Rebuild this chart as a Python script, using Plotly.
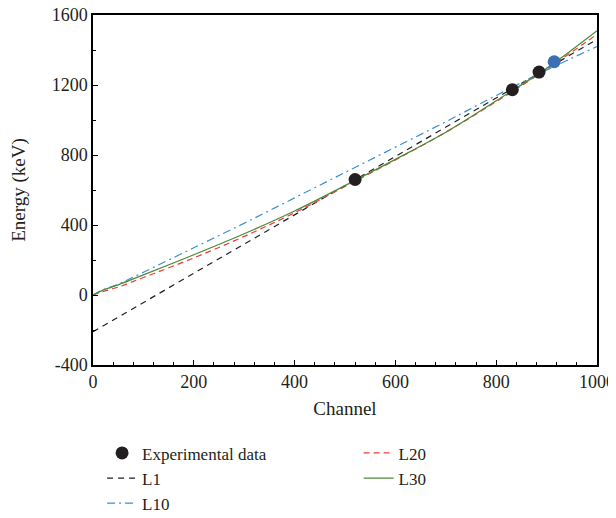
import plotly.graph_objects as go

# Experimental data
exp_channel = [520, 832, 885, 915]
exp_energy = [660, 1173, 1274, 1333]
exp_colors = ["#231f20", "#231f20", "#231f20", "#3a6fb5"]

# Fit curves
l1_x = [0, 1000]
l1_y = [-210, 1460]

curve_x = [0, 20, 50, 100, 200, 300, 400, 500, 600, 700, 800, 900, 1000]
l10_y = [0, 30, 62, 130, 270, 410, 555, 700, 845, 990, 1140, 1285, 1420]
l20_y = [0, 20, 45, 100, 212, 335, 470, 620, 772, 930, 1105, 1290, 1490]
l30_y = [0, 28, 58, 115, 230, 350, 480, 625, 775, 930, 1110, 1295, 1510]

x_ticks = [0, 200, 400, 600, 800, 1000]
x_labels = ["0", "200", "400", "600", "800", "1000"]
y_ticks = [-400, 0, 400, 800, 1200, 1600]
y_labels = ["-400", "0", "400", "800", "1200", "1600"]

FONT = "Liberation Serif"
TXT = "#231f20"

fig = go.Figure()
fig.add_trace(go.Scatter(x=l1_x, y=l1_y, mode="lines", name="L1", legendrank=2,
                         line=dict(color=TXT, width=1.2, dash="6px,5px"), legend="legend"))
fig.add_trace(go.Scatter(x=curve_x, y=l10_y, mode="lines", name="L10", line_shape="spline", legendrank=3,
                         line=dict(color="#3a8fd0", width=1.2, dash="8px,4px,2px,4px"), legend="legend"))
fig.add_trace(go.Scatter(x=curve_x, y=l20_y, mode="lines", name="L20", line_shape="spline", legendrank=1,
                         line=dict(color="#ef3b3b", width=1.2, dash="6px,4px"), legend="legend2"))
fig.add_trace(go.Scatter(x=curve_x, y=l30_y, mode="lines", name="L30", line_shape="spline", legendrank=2,
                         line=dict(color="#4e8a3a", width=1.3), legend="legend2"))
fig.add_trace(go.Scatter(x=exp_channel, y=exp_energy, mode="markers", name="Experimental data", legendrank=1,
                         marker=dict(color=exp_colors, size=13), legend="legend"))

axis_common = dict(
    showline=True, linecolor="black", linewidth=1.5, mirror=True,
    ticks="inside", ticklen=5, tickwidth=1, tickcolor="black",
    showgrid=False, zeroline=False, automargin=False, ticklabeloverflow="allow",
    tickfont=dict(family=FONT, size=18, color=TXT),
)

fig.update_xaxes(range=[0, 1000], tickvals=x_ticks, ticktext=x_labels,
                 minor=dict(ticks="inside", ticklen=3, dtick=40, tickcolor="black"),
                 title=dict(text="Channel", font=dict(family=FONT, size=19, color=TXT), standoff=10),
                 **axis_common)
fig.update_yaxes(range=[-400, 1600], tickvals=y_ticks, ticktext=y_labels,
                 minor=dict(ticks="inside", ticklen=3, dtick=200, tickcolor="black"),
                 title=dict(text="Energy (keV)", font=dict(family=FONT, size=19, color=TXT), standoff=31),
                 **axis_common)

legend_font = dict(family=FONT, size=17, color=TXT)
fig.update_layout(
    width=608, height=510,
    margin=dict(l=85, r=19, t=7, b=153),
    plot_bgcolor="white", paper_bgcolor="white",
    legend=dict(x=0.018, y=0.162, xref="paper", yref="container", xanchor="left", yanchor="top",
                orientation="v", font=legend_font, tracegroupgap=0, bgcolor="rgba(0,0,0,0)"),
    legend2=dict(x=0.527, y=0.162, xref="paper", yref="container", xanchor="left", yanchor="top",
                 orientation="v", font=legend_font, tracegroupgap=0, bgcolor="rgba(0,0,0,0)"),
)

fig.write_html("out.html")
